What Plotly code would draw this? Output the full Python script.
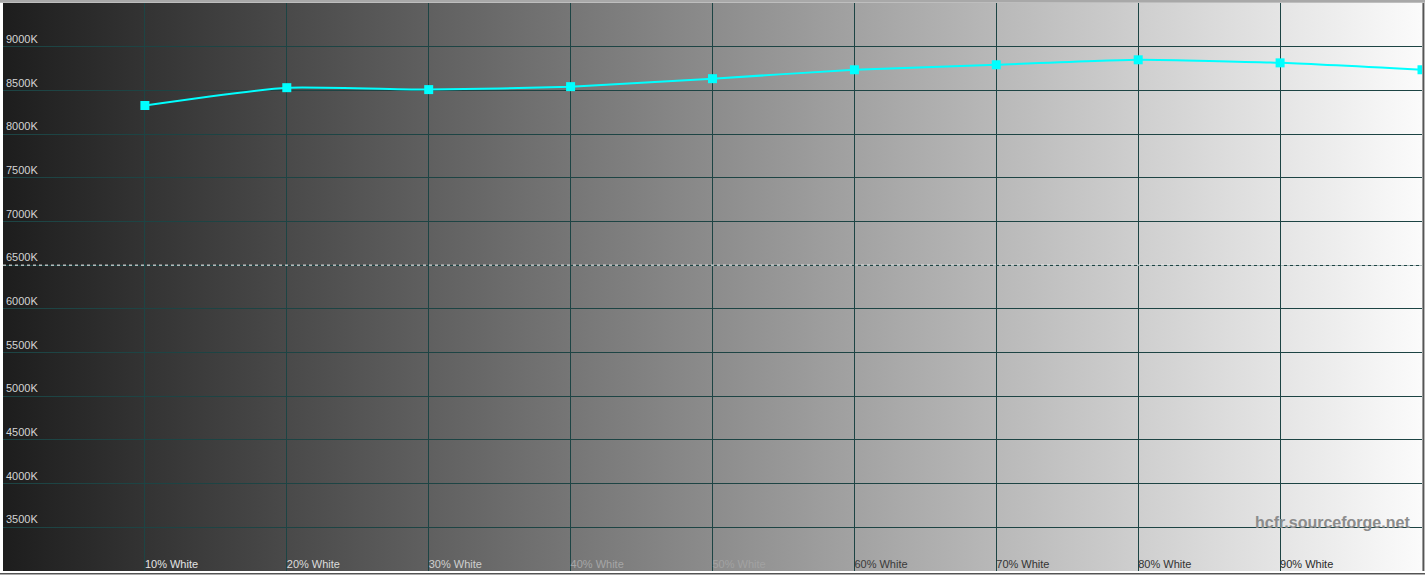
import base64
import plotly.graph_objects as go

# colour temperature per grey step
levels = [10, 20, 30, 40, 50, 60, 70, 80, 90, 100]
temps_k = [8327, 8531, 8509, 8543, 8634, 8736, 8793, 8850, 8815, 8736]

level_labels = ["10% White", "20% White", "30% White", "40% White", "50% White",
                "60% White", "70% White", "80% White", "90% White"]
label_colors = ["#e4e4e4", "#dcdcdc", "#cfcfcf", "#a6a6a6", "#a2a2a2",
                "#3a3a3a", "#333333", "#333333", "#2a2a2a"]

y_ticks = list(range(3500, 9001, 500))
target_k = 6500

# grey ramp behind the plot, as an svg image
svg = ('<svg xmlns="http://www.w3.org/2000/svg" width="100" height="10" preserveAspectRatio="none">'
       '<defs><linearGradient id="g" x1="0" y1="0" x2="1" y2="0">'
       '<stop offset="0" stop-color="#1d1d1d"/><stop offset="1" stop-color="#fbfbfb"/>'
       '</linearGradient></defs><rect width="100" height="10" fill="url(#g)"/></svg>')
svg_uri = "data:image/svg+xml;base64," + base64.b64encode(svg.encode()).decode()

fig = go.Figure()
fig.add_trace(go.Scatter(
    x=levels, y=temps_k, mode="lines+markers",
    line=dict(color="#00ffff", width=2, shape="spline", smoothing=0.5),
    marker=dict(symbol="square", size=9, color="#00ffff"),
    cliponaxis=True, showlegend=False,
))

# 6500K reference
fig.add_hline(y=target_k, line=dict(color="white", width=1, dash="3px,3px"))

fig.add_annotation(text="<b>hcfr.sourceforge.net</b>", xref="paper", yref="y",
                   x=0.993, y=3560, xanchor="right", yanchor="middle", showarrow=False,
                   font=dict(family="Liberation Sans, Arial", size=16, color="#8c8c8c"))

fig.add_layout_image(dict(source=svg_uri, xref="paper", yref="paper", x=0, y=1,
                          sizex=1, sizey=1, sizing="stretch", layer="below"))

# window frame bits
fig.add_shape(type="line", xref="paper", yref="paper", x0=-0.01, x1=1.01, y0=-0.005, y1=-0.005,
              line=dict(color="black", width=1))
fig.add_shape(type="line", xref="paper", yref="paper", x0=1.001, x1=1.001, y0=0, y1=1,
              line=dict(color="#555555", width=2))
fig.add_shape(type="line", xref="paper", yref="paper", x0=-0.01, x1=1.01, y0=1.003, y1=1.003,
              line=dict(color="#a8a8a8", width=3))

fig.update_xaxes(
    range=[0, 100], tickvals=levels[:-1],
    ticktext=[f"<span style='color:{c}'>{t}</span>" for t, c in zip(level_labels, label_colors)],
    ticklabelposition="inside right", ticks="", ticklabelstandoff=-5,
    showgrid=True, gridcolor="#1d4444", gridwidth=1, zeroline=False, showline=False,
    tickfont=dict(family="Liberation Sans, Arial", size=11),
)
fig.update_yaxes(
    range=[3000, 9500], tickvals=y_ticks, ticktext=[f"{v}K" for v in y_ticks],
    ticklabelposition="inside top", ticks="",
    showgrid=True, gridcolor="#1d4444", gridwidth=1, zeroline=False, showline=False,
    tickfont=dict(family="Liberation Sans, Arial", size=11, color="#d4d4d4"),
)
fig.update_layout(
    width=1425, height=577,
    margin=dict(l=3, r=3, t=3, b=6),
    paper_bgcolor="#ffffff", plot_bgcolor="#1d1d1d",
)

fig.write_html("out.html", config={"displayModeBar": False},
               post_script="document.body.style.margin='0';")
